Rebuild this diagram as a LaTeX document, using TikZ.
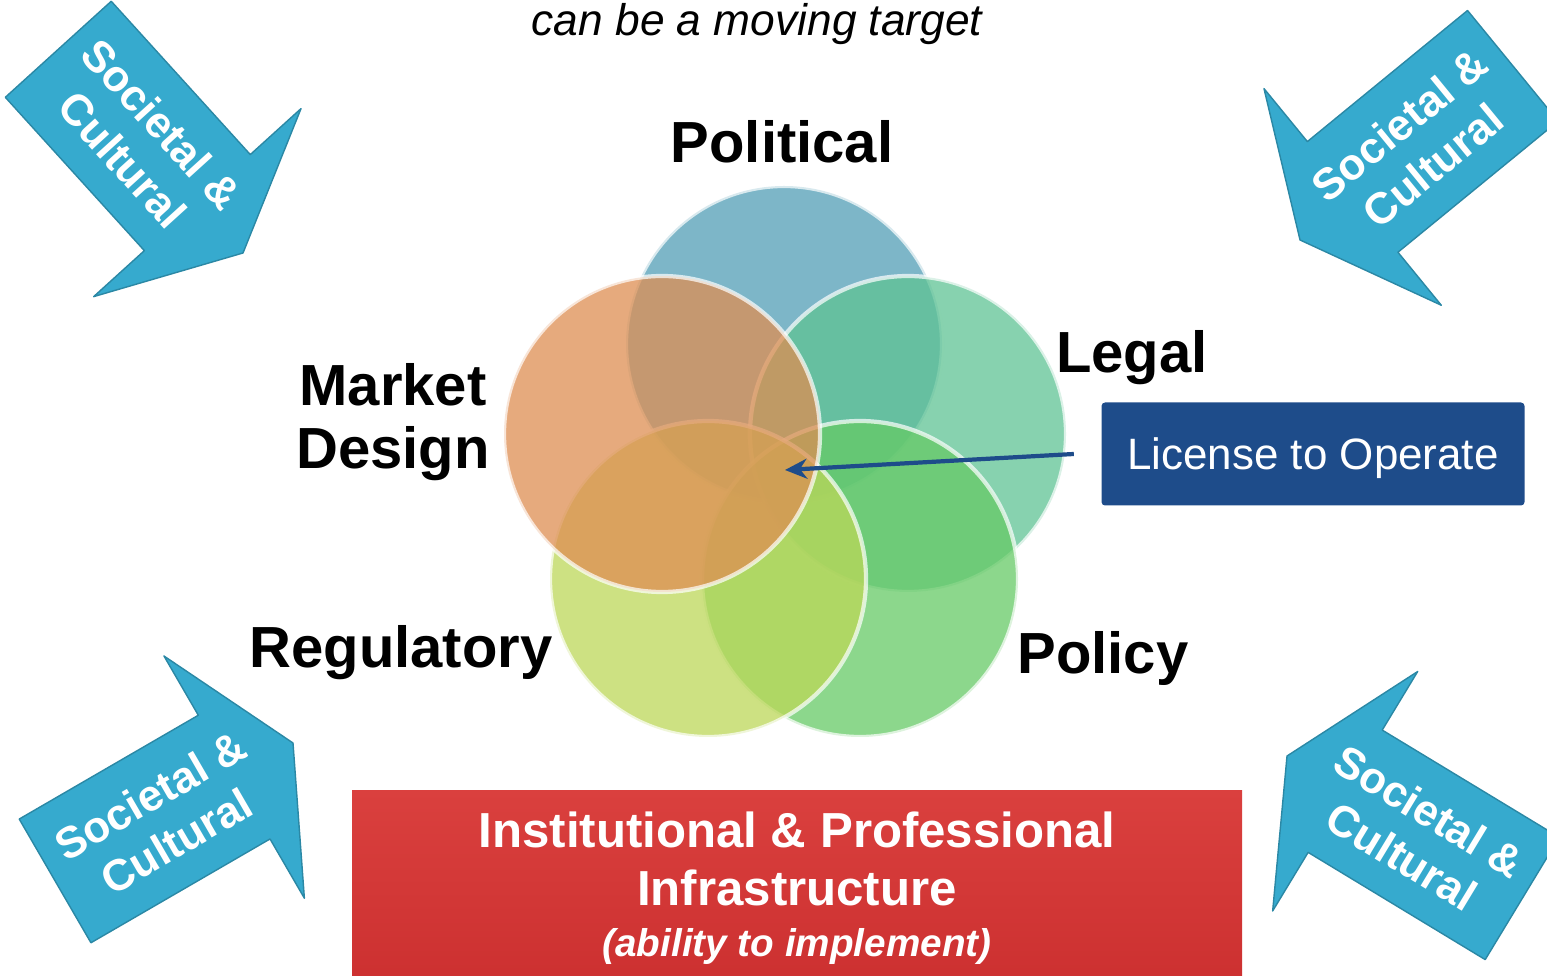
\documentclass[tikz,border=0pt]{standalone}
\usepackage{fontspec}
\setmainfont{Liberation Sans}
\usetikzlibrary{arrows.meta}

\definecolor{polblue}{RGB}{82,158,182}
\definecolor{leggreen}{RGB}{95,195,148}
\definecolor{mktorange}{RGB}{222,142,82}
\definecolor{reglime}{RGB}{188,215,88}
\definecolor{polgreen}{RGB}{102,202,102}
\definecolor{socblue}{RGB}{54,170,206}
\definecolor{licblue}{RGB}{30,76,138}

\begin{document}
\begin{tikzpicture}[x=0.1mm,y=0.1mm,
    petal/.style={shape=circle,inner sep=0pt,minimum size=31.6mm,fill opacity=0.75,
      draw=white,draw opacity=0.7,line width=1.2pt},
    area/.style={font=\fontsize{16.5}{18}\selectfont\bfseries,align=center},
    socarrow/.style={fill=socblue,draw=socblue!80!black,line width=0.4pt,line join=round},
    soctext/.style={text=white,font=\fontsize{12.5}{15}\selectfont\bfseries,align=center}]
    \clip (0,0) rectangle (1547,975);

    \node[font=\fontsize{12.6}{14}\selectfont\itshape,anchor=base] (title) at (757,939) {can be a moving target};

    % five overlapping areas
    \node[petal,fill=polblue] (pol) at (784,631) {};
    \node[petal,fill=leggreen] (leg) at (908,541) {};
    \node[petal,fill=polgreen] (poc) at (860,396) {};
    \node[petal,fill=reglime] (reg) at (708,396) {};
    \node[petal,fill=mktorange] (mkt) at (662,541) {};
    \coordinate (core) at (785,505);

    \node[area,anchor=base] (lpol) at (782,812) {Political};
    \node[area,anchor=base] (lleg) at (1132,602) {Legal};
    \node[area] (lmkt) at (393,553) {Market\\Design};
    \node[area,anchor=base] (lreg) at (401,307) {Regulatory};
    \node[area,anchor=base] (lpoc) at (1103,302) {Policy};

    \node[fill=licblue,text=white,rounded corners=1pt,minimum width=42.3mm,minimum height=10.3mm,
      text depth=0pt,font=\fontsize{12.5}{15}\selectfont] (lic) at (1313,521) {License to Operate};
    \draw[licblue,line width=1.2pt,-{Stealth[length=2.2mm,width=2mm]}] ([xshift=-2.7mm]lic.west) -- (core);

    \node[top color={rgb,255:red,218;green,64;blue,62},bottom color={rgb,255:red,204;green,48;blue,48},
      minimum width=89mm,minimum height=19.5mm,text=white,align=center,
      font=\fontsize{14}{16.5}\selectfont\bfseries] (infra) at (797,87) {Institutional \& Professional\\Infrastructure\\[-2pt]
      {\fontsize{11}{13}\selectfont\itshape (ability to implement)}};

    % societal pressure from the four corners
    \foreach \nm/\tx/\ty/\ang/\rot in {nw/243/722/-47.8/0, ne/1300/735/219.3/180, sw/293/232/30.1/0, se/1287/219/148.8/180}{
      \begin{scope}[shift={(\tx,\ty)},rotate=\ang]
        \draw[socarrow] (-275,-71.5) -- (-68,-71.5) -- (-68,-140) -- (0,0) -- (-68,140) -- (-68,71.5) -- (-275,71.5) -- cycle;
        \node[soctext,rotate=\ang+\rot] (soc-\nm) at (-150,0) {Societal \&\\Cultural};
      \end{scope}
    }
\end{tikzpicture}
\end{document}
